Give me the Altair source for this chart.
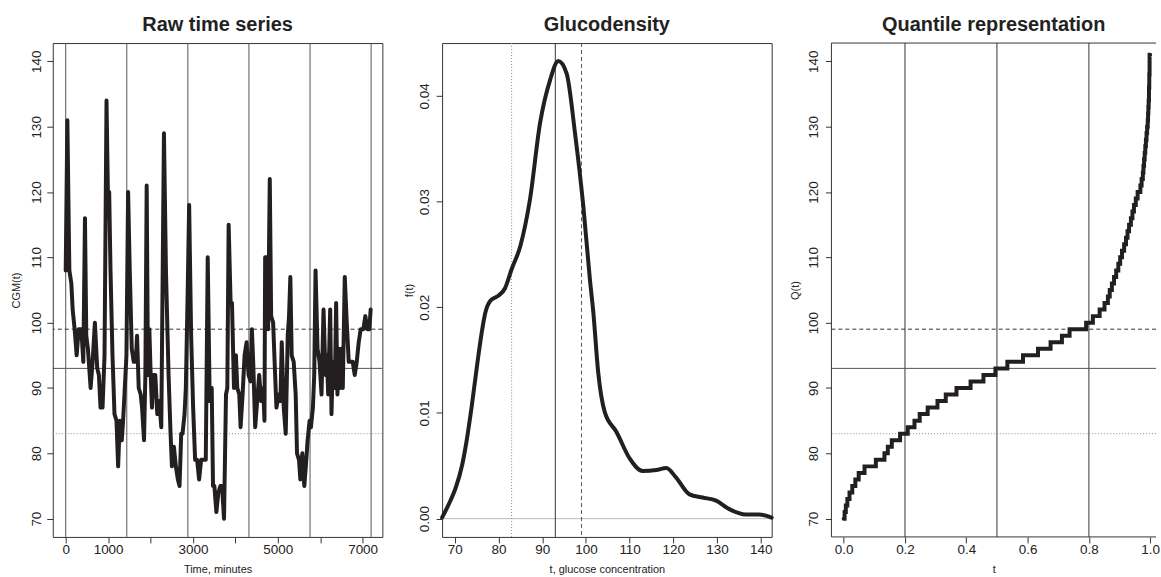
import altair as alt
import pandas as pd

# Continuous glucose monitor trace: minutes since start, glucose (mg/dL)
raw_minutes = [
    0, 39, 86, 133, 164, 211, 258, 305, 368, 415,
    454, 485, 524, 587, 634, 688, 743, 782, 821, 868,
    915, 962, 994, 1025, 1056, 1103, 1150, 1197, 1236, 1275,
    1322, 1353, 1385, 1432, 1471, 1510, 1557, 1604, 1651, 1682,
    1721, 1768, 1800, 1846, 1878, 1909, 1940, 1972, 2003, 2034,
    2065, 2112, 2159, 2206, 2253, 2316, 2363, 2425, 2472, 2504,
    2550, 2597, 2644, 2684, 2723, 2754, 2801, 2832, 2879, 2910,
    2957, 3004, 3051, 3098, 3145, 3192, 3255, 3302, 3348, 3395,
    3442, 3473, 3505, 3552, 3599, 3646, 3685, 3732, 3779, 3810,
    3841, 3888, 3920, 3967, 4013, 4045, 4092, 4123, 4170, 4217,
    4264, 4311, 4358, 4389, 4420, 4467, 4514, 4561, 4608, 4655,
    4686, 4702, 4733, 4772, 4811, 4843, 4890, 4937, 4968, 5015,
    5062, 5093, 5140, 5187, 5234, 5265, 5296, 5328, 5375, 5422,
    5453, 5500, 5531, 5578, 5625, 5672, 5703, 5750, 5781, 5828,
    5859, 5890, 5937, 5984, 6031, 6078, 6125, 6156, 6188, 6235,
    6266, 6297, 6344, 6375, 6406, 6438, 6469, 6500, 6532, 6579,
    6626, 6673, 6720, 6767, 6814, 6861, 6908, 6954, 7017, 7064,
    7111, 7158, 7189,
]
raw_glucose = [
    108, 131, 108, 106, 102, 99, 95, 99, 99, 94,
    116, 98, 96, 90, 94, 100, 93, 92, 87, 87,
    95, 134, 120, 120, 108, 95, 86, 85, 78, 85,
    82, 85, 89, 95, 120, 108, 96, 94, 94, 98,
    90, 89, 87, 82, 92, 121, 92, 99, 92, 87,
    92, 92, 86, 88, 84, 129, 108, 92, 83, 78,
    81, 78, 76, 75, 83, 83, 86, 90, 106, 118,
    98, 87, 79, 79, 76, 79, 79, 79, 110, 88,
    90, 75, 75, 71, 74, 75, 75, 70, 89, 90,
    115, 103, 103, 90, 95, 90, 89, 84, 89, 95,
    97, 92, 91, 99, 94, 84, 88, 92, 88, 90,
    85, 110, 110, 99, 122, 101, 100, 92, 87, 89,
    88, 97, 87, 83, 98, 101, 107, 95, 94, 89,
    80, 79, 76, 80, 75, 79, 82, 85, 84, 87,
    92, 108, 96, 94, 89, 102, 92, 95, 89, 102,
    86, 94, 90, 103, 89, 96, 90, 96, 90, 107,
    100, 94, 94, 94, 92, 94, 97, 99, 99, 101,
    99, 99, 102,
]

# Kernel density of the glucose values
dens_t = [67.1, 69.0, 70.2, 71.7, 72.8, 73.9, 75.1, 76.2, 77.0, 78.1,
          80.0, 81.5, 83.0, 85.0, 87.2, 89.5, 91.8, 93.7, 95.6, 97.5,
          99.4, 100.9, 101.7, 102.8, 104.3, 107.0, 110.0, 113.0, 116.1, 118.4,
          120.6, 123.7, 126.7, 129.8, 132.8, 136.6, 139.6, 142.5]
dens_f = [0.0001, 0.0017, 0.0029, 0.0051, 0.0076, 0.0107, 0.0145, 0.0177, 0.0195, 0.0206,
          0.0211, 0.0218, 0.0236, 0.0258, 0.0302, 0.0374, 0.0415, 0.0433, 0.0421, 0.0365,
          0.0296, 0.0227, 0.0195, 0.0139, 0.0101, 0.0082, 0.0057, 0.0045, 0.0046, 0.0048,
          0.0039, 0.0023, 0.0020, 0.0017, 0.0009, 0.0004, 0.0004, 0.0001]

# Empirical quantile function: glucose level and the cumulative share at which it ends
q_levels = [70, 71, 72, 73, 74, 75, 76, 77, 78, 79,
            80, 81, 82, 83, 84, 85, 86, 87, 88, 89,
            90, 91, 92, 93, 94, 95, 96, 97, 98, 99,
            100, 101, 102, 103, 104, 105, 106, 107, 108, 109,
            110, 111, 112, 113, 114, 115, 116, 117, 118, 119,
            120, 121, 122, 123, 124, 125, 126, 127, 128, 129,
            130, 131, 132, 133, 134, 136, 138, 141]
q_upper = [0.003, 0.007, 0.012, 0.019, 0.028, 0.038, 0.049, 0.068, 0.105, 0.133,
           0.144, 0.157, 0.184, 0.209, 0.231, 0.248, 0.274, 0.306, 0.333, 0.368,
           0.414, 0.456, 0.495, 0.534, 0.585, 0.634, 0.675, 0.712, 0.737, 0.791,
           0.813, 0.835, 0.851, 0.862, 0.868, 0.875, 0.882, 0.889, 0.896, 0.902,
           0.908, 0.915, 0.921, 0.926, 0.931, 0.937, 0.942, 0.947, 0.953, 0.959,
           0.968, 0.972, 0.976, 0.978, 0.980, 0.982, 0.984, 0.986, 0.988, 0.990,
           0.992, 0.993, 0.994, 0.995, 0.996, 0.997, 0.998, 1.000]

# Summary levels: 20th percentile, median, 80th percentile
q_low, q_med, q_high = 83, 93, 99
day_marks = [0, 1440, 2880, 4320, 5760, 7200]
prob_marks = [0.2, 0.5, 0.8]

FONT = "Liberation Sans"
INK = "#231f20"
TEXT = "#222222"
H = 496
DASHED = [4, 3]
DOTTED = [1, 2]


def x_axis(title, values, fmt, label_expr=None):
    opts = dict(title=title, values=values, format=fmt, domain=False, grid=False,
                tickSize=6, tickColor="#333333", tickWidth=1,
                labelFont=FONT, labelFontSize=13.5, labelColor=TEXT,
                labelBaseline="middle", labelPadding=7,
                labelOverlap=False, labelFlush=False,
                titleFont=FONT, titleFontSize=11, titleFontWeight="normal",
                titleColor=TEXT, titleY=33, titleBaseline="middle")
    if label_expr:
        opts["labelExpr"] = label_expr
    return alt.Axis(**opts)


def y_axis(title, values, fmt, label_gap, title_x):
    return alt.Axis(title=title, values=values, format=fmt, domain=False, grid=False,
                    tickSize=6, tickColor="#333333", tickWidth=1,
                    labelFont=FONT, labelFontSize=13.5, labelColor=TEXT,
                    labelAngle=270, labelAlign="center", labelBaseline="middle",
                    labelPadding=label_gap - 6, labelOverlap=False, labelFlush=False,
                    titleFont=FONT, titleFontSize=11, titleFontWeight="normal",
                    titleColor=TEXT, titleAngle=270, titleX=title_x, titleY=H / 2,
                    titleAlign="center", titleBaseline="middle")


def panel_title(text):
    return alt.TitleParams(text, font=FONT, fontSize=20, fontWeight="bold", color=TEXT,
                           offset=-8, baseline="alphabetic", anchor="middle", frame="group")


def hline(field, value, scale, axis, color, dash=None):
    kw = dict(color=color, strokeWidth=1)
    if dash:
        kw["strokeDash"] = dash
    return alt.Chart(pd.DataFrame({field: [value]})).mark_rule(**kw).encode(
        y=alt.Y(f"{field}:Q", scale=scale, axis=axis))


def vlines(field, values, scale, axis, color, dash=None):
    kw = dict(color=color, strokeWidth=1)
    if dash:
        kw["strokeDash"] = dash
    return alt.Chart(pd.DataFrame({field: values})).mark_rule(**kw).encode(
        x=alt.X(f"{field}:Q", scale=scale, axis=axis))


glu_scale = alt.Scale(domain=[67.2, 142.8], nice=False, zero=False)
glu_ticks = list(range(70, 150, 10))

# Panel 1: raw time series
time_scale = alt.Scale(domain=[-305, 7465], nice=False, zero=False)
time_axis = x_axis("Time, minutes", list(range(0, 8000, 1000)), "d",
                   "datum.value == 2000 || datum.value == 4000 || datum.value == 6000 ? '' : datum.label")
cgm_axis = y_axis("CGM(t)", glu_ticks, "d", 16, -36)
raw_df = pd.DataFrame({"minute": raw_minutes, "cgm": raw_glucose})
raw_line = alt.Chart(raw_df).mark_line(color=INK, strokeWidth=4, strokeJoin="round",
                                       strokeCap="round").encode(
    x=alt.X("minute:Q", scale=time_scale, axis=time_axis),
    y=alt.Y("cgm:Q", scale=glu_scale, axis=cgm_axis),
)
p1 = alt.layer(
    vlines("minute", day_marks, time_scale, time_axis, "#555555"),
    hline("cgm", q_low, glu_scale, cgm_axis, "#8a8a8a", DOTTED),
    hline("cgm", q_med, glu_scale, cgm_axis, "#555555"),
    hline("cgm", q_high, glu_scale, cgm_axis, "#333333", DASHED),
    raw_line,
).properties(width=331, height=H, title=panel_title("Raw time series"))

# Panel 2: glucodensity
conc_scale = alt.Scale(domain=[67.1, 142.5], nice=False, zero=False)
dens_scale = alt.Scale(domain=[-0.00173, 0.045], nice=False, zero=False)
conc_axis = x_axis("t, glucose concentration", list(range(70, 150, 10)), "d")
dens_axis = y_axis("f(t)", [0, 0.01, 0.02, 0.03, 0.04], ".2f", 18, -33)
dens_df = pd.DataFrame({"conc": dens_t, "dens": dens_f})
dens_line = alt.Chart(dens_df).mark_line(color=INK, strokeWidth=4, interpolate="monotone",
                                         strokeCap="round").encode(
    x=alt.X("conc:Q", scale=conc_scale, axis=conc_axis),
    y=alt.Y("dens:Q", scale=dens_scale, axis=dens_axis),
)
p2 = alt.layer(
    hline("dens", 0, dens_scale, dens_axis, "#bbbbbb"),
    vlines("conc", [q_low], conc_scale, conc_axis, "#8a8a8a", DOTTED),
    vlines("conc", [q_med], conc_scale, conc_axis, "#333333"),
    vlines("conc", [q_high], conc_scale, conc_axis, "#555555", DASHED),
    dens_line,
).properties(width=331, height=H, title=panel_title("Glucodensity"))

# Panel 3: quantile representation (step function)
q_start = [0.0] + q_upper[:-1]
q_df = pd.DataFrame({"prob": q_start + [1.0], "q": q_levels + [q_levels[-1]]})
W3 = 326
prob_scale = alt.Scale(domain=[-0.04, 1.019], nice=False, zero=False)
prob_axis = x_axis("t", [0, 0.2, 0.4, 0.6, 0.8, 1.0], ".1f")
q_axis = y_axis("Q(t)", glu_ticks, "d", 18, -36)
q_line = alt.Chart(q_df).mark_line(color=INK, strokeWidth=4, interpolate="step-after",
                                   strokeCap="round").encode(
    x=alt.X("prob:Q", scale=prob_scale, axis=prob_axis),
    y=alt.Y("q:Q", scale=glu_scale, axis=q_axis),
)
one = pd.DataFrame({"k": [0]})
edge = dict(color="#333333", strokeWidth=1)
frame3 = [
    alt.Chart(one).mark_rule(**edge).encode(x=alt.value(0), x2=alt.value(W3), y=alt.value(0)),
    alt.Chart(one).mark_rule(**edge).encode(x=alt.value(0), y=alt.value(0), y2=alt.value(H)),
    alt.Chart(one).mark_rule(**edge).encode(x=alt.value(0), x2=alt.value(W3), y=alt.value(H)),
]
p3 = alt.layer(
    vlines("prob", prob_marks, prob_scale, prob_axis, "#333333"),
    hline("q", q_low, glu_scale, q_axis, "#8a8a8a", DOTTED),
    hline("q", q_med, glu_scale, q_axis, "#555555"),
    hline("q", q_high, glu_scale, q_axis, "#333333", DASHED),
    q_line,
    *frame3,
).properties(width=W3, height=H, title=panel_title("Quantile representation"),
             view=alt.ViewBackground(stroke="transparent"))

chart = alt.hconcat(p1, p2, p3, spacing=60, bounds="flush").properties(
    padding={"left": 10, "top": 13, "right": 0, "bottom": 0},
    background="white",
).configure_view(stroke="#333333", strokeWidth=1)

chart.save("out.html", embed_options={"renderer": "svg", "actions": False})
